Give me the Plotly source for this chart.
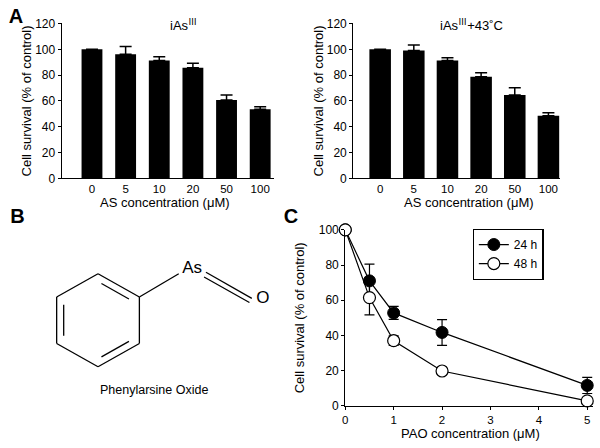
import numpy as np
import plotly.graph_objects as go

# Panel A data
conc_labels = ["0", "5", "10", "20", "50", "100"]
surv_iAs = [100, 96.2, 91.3, 85.7, 60.7, 53.5]
err_iAs = [0, 6.0, 3.0, 3.5, 4.0, 2.0]
surv_heat = [100, 99.0, 91.3, 78.8, 64.7, 48.5]
err_heat = [0, 4.3, 2.2, 3.0, 5.6, 2.3]

# Panel C data
pao_conc = [0, 0.5, 1, 2, 5]
surv_24h = [100, 71, 52.8, 41.7, 11.6]
err_24h = [0, 9.5, 3.7, 7.3, 4.6]
surv_48h = [100, 61.5, 37, 19.8, 2.8]
err_48h = [0, 9.8, 2.7, 0, 1.0]

panel_letters = ["A", "B", "C"]

FONT = "Arial, Liberation Sans, sans-serif"
W, H = 600, 448


#px -> paper helpers (margins are zero so paper == page)
def px(x):
  return x / W
def py(y):
  return 1 - y / H


fig = go.Figure()

bar_x = list(range(len(conc_labels)))
fig.add_trace(go.Bar(x=bar_x, y=surv_iAs, width=0.62, marker=dict(color="black", line=dict(width=0)),
                     error_y=dict(type="data", array=err_iAs, arrayminus=[0]*6, symmetric=False,
                                  color="black", thickness=1.5, width=6),
                     xaxis="x", yaxis="y", showlegend=False))
fig.add_trace(go.Bar(x=bar_x, y=surv_heat, width=0.64, marker=dict(color="black", line=dict(width=0)),
                     error_y=dict(type="data", array=err_heat, arrayminus=[0]*6, symmetric=False,
                                  color="black", thickness=1.5, width=6),
                     xaxis="x2", yaxis="y2", showlegend=False))

fig.add_trace(go.Scatter(x=pao_conc, y=surv_24h, mode="lines+markers", name="24 h",
                         line=dict(color="black", width=1.2),
                         marker=dict(symbol="circle", size=12, color="black", line=dict(color="black", width=1)),
                         error_y=dict(type="data", array=err_24h, color="black", thickness=1.2, width=5),
                         cliponaxis=False, xaxis="x3", yaxis="y3"))
fig.add_trace(go.Scatter(x=pao_conc, y=surv_48h, mode="lines+markers", name="48 h",
                         line=dict(color="black", width=1.2),
                         marker=dict(symbol="circle", size=12, color="white", line=dict(color="black", width=1.2)),
                         error_y=dict(type="data", array=err_48h, color="black", thickness=1.2, width=5),
                         cliponaxis=False, xaxis="x3", yaxis="y3"))

# Panel B: phenylarsine oxide structure, unit = one bond length
ang = np.deg2rad([90, 30, -30, -90, -150, 150])
ring_x = np.cos(ang)
ring_y = np.sin(ang)
mol_lines = []
for i in range(6):
  j = (i + 1) % 6
  mol_lines.append(([ring_x[i], ring_x[j]], [ring_y[i], ring_y[j]]))
# inner lines of the aromatic ring
for i in [0, 2, 4]:
  j = (i + 1) % 6
  ax_, ay_ = ring_x[i]*0.83, ring_y[i]*0.83
  bx_, by_ = ring_x[j]*0.83, ring_y[j]*0.83
  s = 0.1
  mol_lines.append(([ax_ + (bx_-ax_)*s, bx_ - (bx_-ax_)*s], [ay_ + (by_-ay_)*s, by_ - (by_-ay_)*s]))
mol_lines.append(([ring_x[1], 1.69], [ring_y[1], 1.0]))
mol_lines.append(([2.26, 3.22], [1.03, 0.47]))
mol_lines.append(([2.22, 3.17], [0.93, 0.38]))
for lx, ly in mol_lines:
  fig.add_trace(go.Scatter(x=lx, y=ly, mode="lines", line=dict(color="black", width=1.3),
                           xaxis="x4", yaxis="y4", showlegend=False, hoverinfo="skip"))
fig.add_trace(go.Scatter(x=[1.97, 3.45], y=[1.1, 0.47], mode="text", text=["As", "O"],
                         textfont=dict(family=FONT, size=17, color="black"),
                         xaxis="x4", yaxis="y4", showlegend=False))

# panel letters on a page-sized hidden axis (pixel units, y downwards)
fig.add_trace(go.Scatter(x=[13, 14.5, 289.5], y=[11, 218, 218], mode="text",
                         text=["<b>%s</b>" % l for l in panel_letters],
                         textfont=dict(family=FONT, size=20, color="black"), cliponaxis=False,
                         xaxis="x5", yaxis="y5", showlegend=False, hoverinfo="skip"))

tickf = dict(family=FONT, size=12, color="black")
xtickf = dict(family=FONT, size=11.5, color="black")
ytitlef = dict(family=FONT, size=13, color="black")
bar_y_common = dict(range=[0, 120], tickvals=[0, 20, 40, 60, 80, 100, 120], showgrid=False, zeroline=False,
                    showline=True, linecolor="black", linewidth=1.2, ticks="outside", ticklen=3,
                    tickcolor="black", tickfont=tickf, title=dict(text="Cell survival (% of control)", font=ytitlef, standoff=0))
bar_x_common = dict(tickvals=bar_x, ticktext=conc_labels, showgrid=False, zeroline=False, showline=True,
                    linecolor="black", linewidth=1.2, ticks="", tickfont=xtickf)

sup3 = "<sup><span style=\"font-family:'Noto Sans CJK SC'\">Ⅲ</span></sup>"


def ann(text, x, y, size, xanchor="center", yanchor="middle"):
  return dict(text=text, x=px(x), y=py(y), xref="paper", yref="paper", showarrow=False,
              font=dict(family=FONT, size=size, color="black"), xanchor=xanchor, yanchor=yanchor)


fig.update_layout(
  width=W, height=H, margin=dict(l=0, r=0, t=0, b=0),
  paper_bgcolor="white", plot_bgcolor="rgba(0,0,0,0)",
  bargap=0.3,
  xaxis=dict(domain=[px(59), px(272)], range=[-0.9, 5.4], anchor="y", **bar_x_common),
  yaxis=dict(domain=[py(177), py(17)], anchor="x", **bar_y_common),
  xaxis2=dict(domain=[px(352), px(560)], range=[-0.8, 5.35], anchor="y2", **bar_x_common),
  yaxis2=dict(domain=[py(177), py(17)], anchor="x2", **bar_y_common),
  xaxis3=dict(domain=[px(344), px(593)], range=[0, 5.12], anchor="y3", tickvals=[0, 1, 2, 3, 4, 5],
              showgrid=False, zeroline=False, showline=True, linecolor="black", linewidth=1.2,
              ticks="outside", ticklen=3, tickcolor="black", tickfont=xtickf),
  yaxis3=dict(domain=[py(411.7), py(230)], range=[0, 100], anchor="x3", tickvals=[0, 20, 40, 60, 80, 100],
              showgrid=False, zeroline=False, showline=True, linecolor="black", linewidth=1.2,
              ticks="outside", ticklen=3, tickcolor="black", tickfont=tickf,
              title=dict(text="Cell survival (% of control)", font=ytitlef, standoff=11)),
  xaxis4=dict(domain=[px(30), px(290)], range=[(30-95.5)/48, (290-95.5)/48], anchor="y4", visible=False),
  yaxis4=dict(domain=[py(400), py(250)], range=[-(400-323.3)/48, (323.3-250)/48], anchor="x4", visible=False),
  xaxis5=dict(domain=[0, 1], range=[0, W], anchor="y5", visible=False, fixedrange=True),
  yaxis5=dict(domain=[0, 1], range=[H, 0], anchor="x5", visible=False, fixedrange=True),
  legend=dict(x=px(472), y=py(229), xanchor="left", yanchor="top", bordercolor="black", borderwidth=1.2,
              bgcolor="white", font=dict(family=FONT, size=12, color="black"),
              itemwidth=30, tracegroupgap=0),
  annotations=[
    ann("iAs" + sup3, 181, 17, 13),
    ann("iAs" + sup3 + "+43˚C", 471, 17, 13),
    ann("AS concentration (μM)", 163, 202, 13),
    ann("AS concentration (μM)", 468, 202, 13),
    ann("PAO concentration (μM)", 470, 440, 13),
    ann("Phenylarsine Oxide", 152, 395, 12.5),
  ],
)

fig.write_html("out.html", config={"displayModeBar": False},
               post_script="document.body.style.margin='0';")
